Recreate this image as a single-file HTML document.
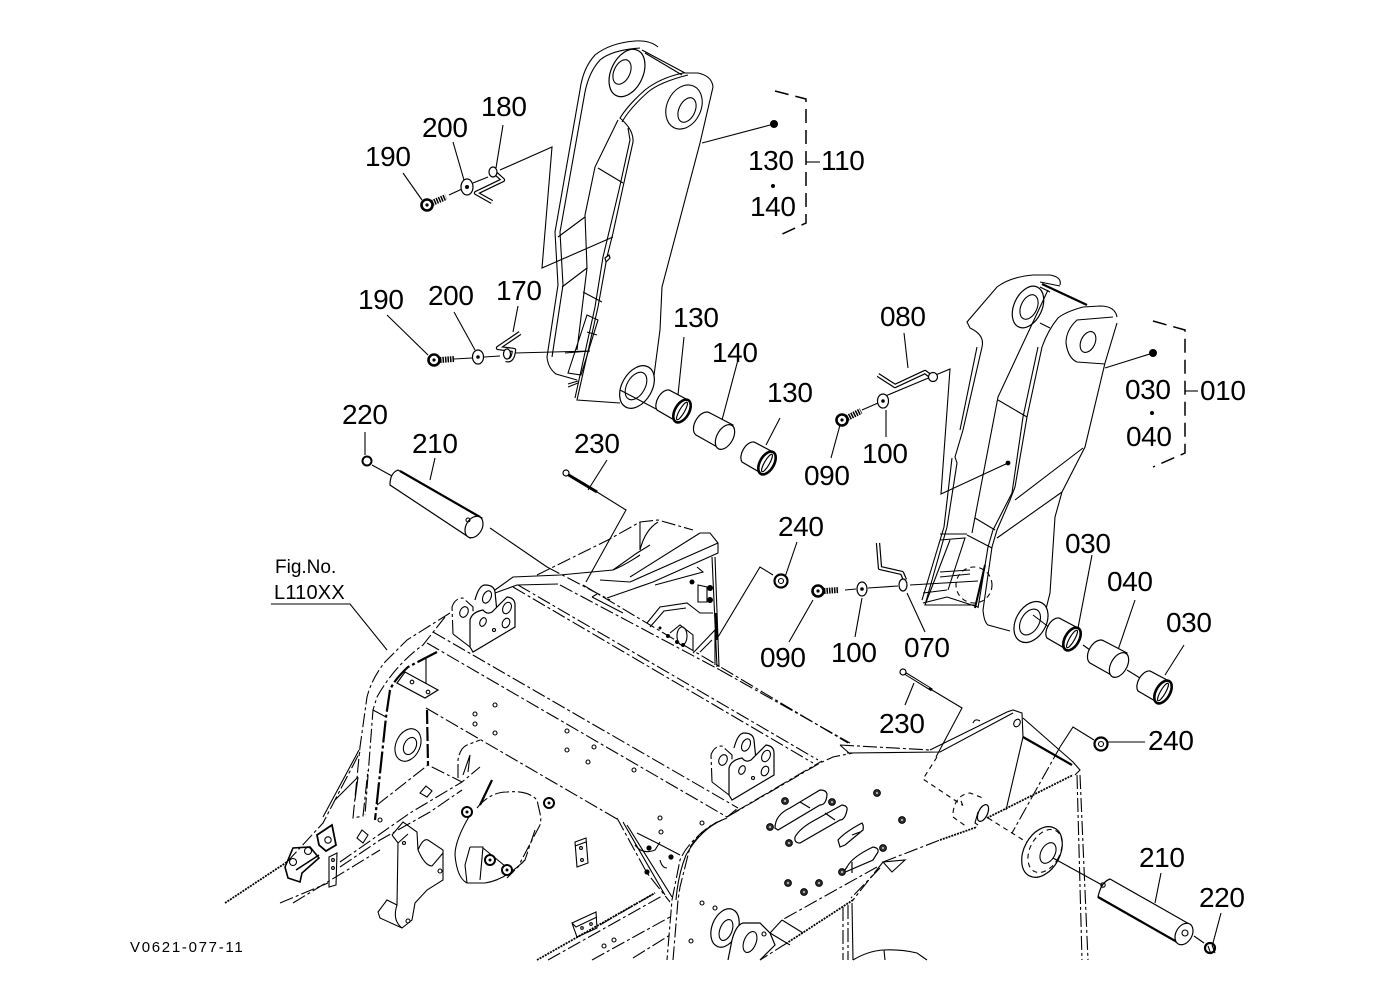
<!DOCTYPE html>
<html><head><meta charset="utf-8"><style>
html,body{margin:0;padding:0;background:#fff}
svg{display:block}
text{font-family:"Liberation Sans",sans-serif;font-size:28px;fill:#000;letter-spacing:-.4px}
.l{fill:none;stroke:#000;stroke-width:1.1}
.d{fill:none;stroke:#000;stroke-width:1.1;stroke-dasharray:14 3 3 3}
.s{fill:none;stroke:#000;stroke-width:1.1;stroke-dasharray:5 4}
.g{fill:none;stroke:#000;stroke-width:1.8;stroke-dasharray:2 1}
.t{fill:none;stroke:#000;stroke-width:2.2}
.w{fill:#fff;stroke:#000;stroke-width:1.2}
.h1{fill:none;stroke:#000;stroke-width:4.4;stroke-linejoin:round}
.h2{fill:none;stroke:#fff;stroke-width:2;stroke-linejoin:round}
</style></head><body>
<svg width="1379" height="1001" viewBox="0 0 1379 1001" xmlns="http://www.w3.org/2000/svg">
<defs>
<g id="bush"><path class="w" d="M6,-11 L-13,-21 A7 12 30 0 0 -25,-1 L-6,10Z"/><ellipse rx="7" ry="12.5" transform="rotate(30)" fill="#fff" stroke="#000" stroke-width="2.6"/><ellipse rx="2.5" ry="10" transform="rotate(30)" fill="none" stroke="#000" stroke-width="1.2"/></g>
<g id="spacer"><path class="w" d="M8,-12 L-15,-24 A8 13 30 0 0 -29,-2 L-6,11Z"/><ellipse rx="8" ry="13.5" transform="rotate(30)" class="w"/></g>
<g id="bolt"><circle r="5" fill="#fff" stroke="#000" stroke-width="2"/><circle r="1.5"/></g>
<g id="nut"><circle r="3.4" fill="#333" stroke="#000" stroke-width="1"/><circle r=".9" fill="#fff"/></g>
<g id="brk" class="l">
<path class="w" d="M475,600 Q479,585 485,585 Q494,585 495,592 L497,612"/>
<path class="d" d="M453,634 L452,607 Q455,598 463,598 L473,607 L473,622"/>
<path class="l" d="M453,634 L470,647"/>
<path class="w" d="M470,647 L470,620 Q472,612 483,610 Q487,615 492,612 L507,597 Q515,598 515,605 L515,627 L473,652 Z"/>
<ellipse cx="464" cy="612" rx="4" ry="5.5" transform="rotate(25 464 612)" class="l"/>
<ellipse cx="487" cy="597" rx="4" ry="6.5" transform="rotate(25 487 597)" class="l"/>
<ellipse cx="483" cy="622" rx="3" ry="4.5" transform="rotate(25 483 622)" class="l"/>
<ellipse cx="507" cy="608" rx="4" ry="6" transform="rotate(25 507 608)" class="l"/>
<ellipse cx="506" cy="623" rx="3.5" ry="5" transform="rotate(25 506 623)" class="l"/>
<circle cx="494" cy="630" r="1.5" class="l"/>
</g>
</defs>

<!-- upper arm -->
<g>
<path class="l" d="M658,47 Q650,40 635,41 Q610,43 595,55 Q583,68 580,90 L555,232 L558,285 L547,357 Q548,368 556,374 L577,380"/>
<path class="l" d="M640,48 Q612,50 600,60 Q589,72 585,92 L560,232 L563,285 L552,357"/>
<path class="l" d="M642,50 L685,73 M645,53 L682,75"/>
<path class="l" d="M713,87 Q712,76 698,73 L683,73 Q660,78 645,90 Q628,105 620,118 Q634,130 633,142 L623,187 L613,233 L607,257 L598,307 L577,400 L620,403"/>
<path class="l" d="M688,75 Q660,82 648,92 Q630,108 622,122"/>
<path class="l" d="M628,128 L630,140 L619,190 L609,232 L603,257 L595,307 L575,398"/>
<path class="l" d="M713,87 L700,143 L662,287 L660,330 L653,383"/>
<path class="w" d="M605,258 L609,255 L610,258 L606,262Z"/>
<ellipse cx="627" cy="73" rx="16" ry="25" transform="rotate(25 627 73)" class="w"/>
<ellipse cx="622" cy="72" rx="8" ry="13" transform="rotate(25 622 72)" class="l"/>
<ellipse cx="684" cy="107" rx="17" ry="23" transform="rotate(25 684 107)" class="l"/>
<ellipse cx="687" cy="110" rx="8" ry="13" transform="rotate(25 687 110)" class="l"/>
<ellipse cx="637" cy="387" rx="15" ry="23" transform="rotate(30 637 387)" class="w"/>
<ellipse cx="636" cy="386" rx="9" ry="15" transform="rotate(30 636 386)" class="l"/>
<path class="l" d="M618,120 L595,167 L585,215 L587,268 L577,350 M598,168 L623,183 M585,217 L558,237 M587,268 L562,287 M583,292 L602,302 M587,315 L598,320 L581,375 L568,373Z"/>
<path class="l" d="M565,353 L590,351 M568,387 L578,383 M587,332 L597,335 M568,384 L578,381"/>
</g>
<!-- leaders upper arm -->
<path class="l" d="M500,170 L552,147 L542,268 L613,237 M449,195 L462,189 M473,183 L488,177 M403,173 L422,200 M453,142 L464,180 M503,125 L496,168 M702,143 L774,124"/>
<circle cx="774" cy="124" r="4"/><circle cx="773" cy="186" r="2"/>
<path fill="none" stroke="#000" stroke-width="1.5" stroke-dasharray="14 7" d="M775,91 L806,99 L806,223 L776,237"/>
<path class="l" d="M806,162 L820,162"/>
<!-- hardware -->
<g>
<circle cx="427" cy="205" r="5.5" fill="#fff" stroke="#000" stroke-width="2.6"/><circle cx="427" cy="205" r="1.6"/><path stroke="#000" stroke-width="6" stroke-dasharray="1.5 1" d="M432,203 L446,197"/>
<ellipse cx="467" cy="187" rx="6" ry="8" class="w" stroke-width="1.6"/><circle cx="467" cy="187" r="2"/>
<path class="h1" d="M492,170 L503,180 L476,193 L492,202"/><path class="h2" d="M492,170 L503,180 L476,193 L492,202"/><ellipse cx="493" cy="172" rx="4" ry="5" class="w" stroke-width="1.6"/>
<circle cx="434" cy="360" r="5.5" fill="#fff" stroke="#000" stroke-width="2.6"/><circle cx="434" cy="360" r="1.6"/><path stroke="#000" stroke-width="6" stroke-dasharray="1.5 1" d="M440,360 L454,359"/>
<path class="l" d="M454,359 L472,358 M484,357 L500,356 M515,353 L590,351"/>
<ellipse cx="478" cy="357" rx="5.5" ry="7" class="w" stroke-width="1.6"/><circle cx="478" cy="357" r="1.8"/>
<path class="h1" d="M520,333 L498,348 L514,350 Q513,362 506,360"/><path class="h2" d="M520,333 L498,348 L514,350 Q513,362 506,360"/><ellipse cx="507" cy="354" rx="3.5" ry="5" class="w"/>
<path class="l" d="M518,306 L513,332 M454,312 L475,350 M387,315 L428,355"/>
</g>
<path class="l" d="M620,390 L658,410 M696,425 L700,428 M745,450 L750,452"/>
<use href="#bush" x="682" y="411"/><use href="#spacer" x="725" y="437"/><use href="#bush" x="767" y="463"/>
<path class="l" d="M684,337 L678,395 M739,356 L722,420 M780,418 L766,445"/>

<!-- right arm -->
<g>
<path class="l" d="M1060,285 Q1062,277 1050,275 L1033,275 Q1010,277 997,287 L967,322 L970,328 Q985,335 982,347 L963,430 L955,457 L957,463 L947,527 L925,605 L975,605"/>
<path class="l" d="M977,347 L960,430 M952,458 L944,527 L922,600"/>
<path class="l" d="M1117,317 Q1115,306 1100,306 L1083,307 Q1065,312 1058,318 Q1048,330 1042,347 L1027,417 L1015,487 L1010,500 L997,530 L992,547 L983,610 Q984,622 988,625 L1010,631"/>
<path class="l" d="M1038,347 L1023,417 L1012,493 L993,530 L988,547 L978,608"/>
<path class="l" d="M1117,323 L1105,363 L1085,447 L1062,492 L1055,517 L1050,593 L1045,613"/>
<path class="l" d="M1113,317 L1077,320 Q1066,330 1066,343 Q1068,358 1077,362 L1105,364"/>
<ellipse cx="1088" cy="342" rx="7" ry="11" transform="rotate(25 1088 342)" class="l"/>
<ellipse cx="1028" cy="307" rx="14" ry="22" transform="rotate(25 1028 307)" class="w"/>
<ellipse cx="1029" cy="307" rx="8" ry="13" transform="rotate(25 1029 307)" class="l"/>
<path class="t" stroke-width="1.8" d="M1042,284 L1087,305"/><path class="l" d="M1040,282 L1060,286 M1040,287 L1050,292"/>
<path class="l" d="M1048,290 L998,397 L972,533 M998,400 L1027,417 M1083,448 L1015,500 M1062,492 L997,538 M975,518 L995,530 M967,535 L992,548"/>
<path class="l" d="M1040,323 L1050,328"/>
<ellipse cx="1031" cy="622" rx="15" ry="22" transform="rotate(30 1031 622)" class="w"/>
<ellipse cx="1030" cy="622" rx="9" ry="14" transform="rotate(30 1030 622)" class="l"/>
<path class="l" d="M940,534 L967,534 M940,540 L965,538 L948,590 M950,540 L925,605 M940,572 L970,570 M940,577 L970,574 M923,593 L947,590 M923,603 L947,597 M947,597 L978,607"/>
<circle cx="974" cy="585" r="18" class="s"/>
<path stroke="#000" stroke-width="2" d="M985,565 L975,608"/>
</g>
<!-- leaders right arm -->
<path class="l" d="M883,397 L950,369 L941,494 L1008,463 M862,410 L878,403 M840,425 L831,458 M886,410 L886,437 M904,333 L908,368 M1105,368 L1153,353 M910,585 L978,581 M845,590 L856,589 M868,588 L898,586 M862,598 L855,637 M907,593 L925,632 M813,600 L789,642"/>
<circle cx="1008" cy="463" r="2.4"/><circle cx="1153" cy="353" r="4"/><circle cx="1152" cy="413" r="2"/>
<path fill="none" stroke="#000" stroke-width="1.5" stroke-dasharray="14 7" d="M1153,321 L1185,330 L1185,453 L1153,467"/>
<path class="l" d="M1185,391 L1198,391"/>
<path class="h1" d="M878,375 L895,386 L925,372 L933,378"/><path class="h2" d="M878,375 L895,386 L925,372 L933,378"/>
<circle cx="933" cy="377" r="4.5" class="w" stroke-width="1.6"/>
<ellipse cx="883" cy="401" rx="5.5" ry="7" class="w" stroke-width="1.6"/><circle cx="883" cy="401" r="1.8"/>
<circle cx="842" cy="420" r="5.5" fill="#fff" stroke="#000" stroke-width="2.6"/><circle cx="842" cy="420" r="1.6"/><path stroke="#000" stroke-width="6" stroke-dasharray="1.5 1" d="M847,418 L861,411"/>
<circle cx="818" cy="591" r="5.5" fill="#fff" stroke="#000" stroke-width="2.6"/><circle cx="818" cy="591" r="1.6"/><path stroke="#000" stroke-width="6" stroke-dasharray="1.5 1" d="M824,591 L839,590"/>
<ellipse cx="862" cy="589" rx="5" ry="7" class="w" stroke-width="1.6"/><circle cx="862" cy="589" r="1.8"/>
<path class="h1" d="M878,543 L880,568 L902,573 L905,580"/><path class="h2" d="M878,543 L880,568 L902,573 L905,580"/><ellipse cx="903" cy="585" rx="4" ry="6" class="w" stroke-width="1.8"/>
<path class="l" d="M1033,615 L1050,628 M1083,645 L1090,650 M1127,670 L1140,678 M1092,555 L1078,628 M1135,600 L1118,650 M1184,645 L1165,675"/>
<use href="#bush" x="1072" y="639"/><use href="#spacer" x="1119" y="665"/><use href="#bush" x="1163" y="692"/>

<!-- frame: left rail -->
<g>
<path class="d" d="M450,613 L407,640 L385,662 Q372,678 367,697 L360,747 L353,818 L363,816 L368,770"/>
<path class="d" d="M445,617 L423,645 Q395,665 377,697 L373,710 L365,815"/>
<path class="l" d="M373,710 L386,717"/>
<path class="t" stroke-width="1.8" stroke-dasharray="22 3 3 3" d="M437,652 L408,667 Q394,680 390,690 L386,717 L375,820"/>
<path class="g" d="M225,903 L287,862"/>
<path class="d" d="M287,862 L323,823 L360,752"/>
<path class="l" d="M323,817 L359,750 M335,800 L358,777"/>
<path class="l" d="M355,800 L358,777"/>
<path class="d" d="M280,903 L328,883"/><path class="d" d="M293,903 L380,850"/>
<path class="d" d="M340,862 L410,813 L462,782"/>
<path class="d" d="M340,867 L380,840 L430,812 L462,790"/>
<path class="d" d="M377,805 L428,765 L462,782 L480,767"/>
<path class="l" d="M426,657 L426,697"/>
<path class="t" stroke-width="1.6" stroke-dasharray="14 3" d="M427,710 L428,765"/>
<path class="d" d="M433,632 L738,808"/>
<path class="d" d="M427,643 L727,817 L738,808"/>
<path class="d" d="M426,708 L617,819"/>
<path class="w" d="M405,672 L438,690 L425,698 L397,683Z"/>
<circle cx="412" cy="682" r="1.8" class="l"/><circle cx="428" cy="692" r="1.8" class="l"/>
<ellipse cx="408" cy="745" rx="12" ry="17" transform="rotate(25 408 745)" class="l"/>
<ellipse cx="410" cy="746" rx="6" ry="9" transform="rotate(25 410 746)" class="l"/>
<path class="d" d="M458,778 L458,760 Q460,748 467,745 L480,740"/>
<path class="l" d="M463,775 L470,755 M470,755 L468,772"/>
<path class="l" d="M426,786 L432,791 L427,797 L420,793Z M362,830 L368,835 L363,843 L357,838Z"/>
<g class="l"><circle cx="495" cy="705" r="2"/><circle cx="475" cy="714" r="2"/><circle cx="475" cy="724" r="2"/><circle cx="495" cy="733" r="2"/><circle cx="567" cy="731" r="2"/><circle cx="567" cy="750" r="2"/><circle cx="594" cy="747" r="2"/><circle cx="588" cy="762" r="2"/><circle cx="634" cy="770" r="2"/><circle cx="660" cy="818" r="2"/><circle cx="661" cy="832" r="2"/><circle cx="702" cy="823" r="2"/><circle cx="380" cy="820" r="2"/><circle cx="702" cy="903" r="2"/><circle cx="715" cy="908" r="2"/><circle cx="691" cy="941" r="2"/><circle cx="604" cy="946" r="2"/><circle cx="614" cy="940" r="2"/></g>
<!-- top back rail -->
<path class="d" d="M513,587 L813,763"/>
<path class="d" d="M518,585 L818,760"/>
<path class="d" d="M583,585 L848,743"/>
<path class="d" d="M560,585 L720,670"/>
<path class="d" d="M720,670 L850,743"/>
<path class="l" stroke-width="1.4" d="M495,590 L513,577 L560,575 L613,570 L637,553 L650,545"/>
<path class="l" d="M495,593 L517,585 L558,584"/>
<path class="d" d="M537,575 L608,540 L640,522 L658,520 L693,530"/>
<path class="l" d="M640,522 L640,550 M658,522 Q645,530 640,550 M640,555 Q625,565 613,570"/>
<path class="l" d="M700,533 L710,533 L718,543 L718,553 L653,582 L607,598 M718,543 L630,582 L600,580 M700,533 L630,577"/>
<path class="l" d="M592,597 L623,613 M592,597 L597,594 M697,567 L703,572 L655,585"/>
<path class="l" d="M712,557 L717,667 M715,557 L719,667"/>
<path class="t" stroke-width="1.6" d="M716,613 L717,640"/>
<path class="l" d="M647,623 L660,607 L687,603 L700,613 L713,613"/>
<path class="l" d="M650,627 L664,611 L686,608"/>
<path class="l" d="M670,633 L680,625 L693,635 L693,650"/><ellipse cx="682" cy="636" rx="5" ry="9" class="l"/>
<path class="l" d="M693,653 L715,630 L715,665 M700,652 L712,640"/>
<path class="l" d="M698,585 L707,587 L707,602 L698,602Z"/>
<circle cx="710" cy="588" r="3"/><circle cx="710" cy="600" r="3"/><circle cx="692" cy="582" r="2.5"/>
<circle cx="668" cy="636" r="2"/><circle cx="677" cy="642" r="2"/><circle cx="683" cy="645" r="2"/><circle cx="660" cy="628" r="1.5"/>
</g>
<use href="#brk"/>
<use href="#brk" x="259" y="148"/>

<!-- disc -->
<g>
<path class="d" d="M477,808 Q490,792 507,792 Q528,790 537,800 L541,818 L540,825 L520,863"/>
<path class="d" d="M535,830 L525,860 L507,878"/>
<path class="l" d="M470,815 Q455,840 455,855 Q457,878 467,883 L485,883 Q505,880 525,860"/>
<path class="t" stroke-width="3.5" d="M492,780 L480,805"/>
<use href="#bolt" x="467" y="812"/><use href="#bolt" x="549" y="803"/><use href="#bolt" x="490" y="860"/><use href="#bolt" x="507" y="870"/>
<path class="l" d="M470,847 L483,847 L480,880 M470,847 L465,865 L467,883 M483,848 L505,866"/>
</g>
<!-- hanger -->
<g class="l">
<path d="M392,835 L403,822 L417,832 L418,850 Q423,838 428,840 L443,850 L443,880 L427,890 L415,903 L412,920 L402,928 L380,918 L378,912 L387,900 L397,905 L398,843"/>
<path d="M392,835 L398,843 L408,834 M418,850 Q425,866 432,866 L443,853 M397,905 Q392,920 402,928"/>
<circle cx="404" cy="843" r="1.5"/><circle cx="440" cy="871" r="2"/><circle cx="408" cy="921" r="2"/>
<path d="M575,842 L586,838 L588,863 L577,867Z M575,846 L586,842"/><circle cx="581" cy="848" r="1.4"/><circle cx="582" cy="860" r="1.4"/>
<path d="M572,923 L596,912 L597,928 L577,937Z M572,923 L576,927 L597,917"/><circle cx="582" cy="928" r="1.3"/><circle cx="591" cy="924" r="1.3"/>
</g>
<!-- left details -->
<g class="l">
<path stroke-width="1.6" d="M285,867 L293,848 L310,847 L319,858 L302,873 L300,882 L288,878Z M296,870 L319,855"/>
<circle cx="293" cy="862" r="3.5"/><circle cx="308" cy="851" r="3.5"/>
<path stroke-width="1.8" d="M317,835 L332,825 L336,845 L326,851 L319,845Z"/><circle cx="328" cy="840" r="3.2"/>
<path d="M329,857 L337,853 L336,885 L329,887Z"/><circle cx="333" cy="860" r="1.4"/><circle cx="333" cy="868" r="1.4"/>
</g>
<!-- bottom rail & center -->
<g>
<path class="g" d="M537,960 L655,893"/><path class="d" d="M548,960 L662,896"/>
<path class="d" d="M600,925 L655,893"/>
<path class="d" d="M592,960 L670,917"/><path class="d" d="M633,958 L670,935"/>
<path class="d" d="M617,818 L647,873 L670,902"/>
<path class="l" d="M627,825 L672,897 M623,822 L665,895 M637,833 L657,843 L680,855 M660,860 Q662,868 667,868"/>
<path class="l" d="M635,845 Q642,855 655,850 L660,842"/>
<circle cx="649" cy="848" r="2.6"/><circle cx="671" cy="857" r="2.6"/><circle cx="647" cy="872" r="2.6"/>
<path class="d" d="M727,818 Q708,825 697,837 Q685,848 680,860 L672,900 L667,960"/>
<path class="d" d="M717,822 Q700,832 690,847 L680,887 L678,900 L673,960"/>
<path class="l" d="M722,820 Q700,830 686,855 Q678,875 676,900"/>
<path class="d" d="M727,817 L820,763 L833,757 L853,753"/>
<path class="d" d="M735,812 L822,761"/>
<path class="d" d="M840,745 L930,750"/>
<path class="l" d="M847,753 L940,752 L1013,713 M840,745 L849,753 M930,750 L1007,712 L1013,710 L1022,713 L1023,737"/>
<path class="l" d="M973,723 Q975,718 980,721"/>
<path class="l" d="M1023,718 L1073,762 L1080,770 L1075,775"/>
<path class="t" stroke-width="1.6" d="M1023,737 L1072,765"/>
<path class="d" d="M1077,775 L1082,960"/><path class="d" d="M1080,775 L1088,960"/>
<path class="g" d="M987,818 L1073,775"/>
<path class="g" d="M940,840 L977,827"/>
<path class="d" d="M883,862 L940,840"/>
<path class="g" d="M883,862 L920,855" stroke-opacity="0"/>
<path class="d" d="M883,862 L853,900"/><path class="d" d="M880,868 L851,898"/>
<path class="l" d="M883,862 L905,860 L892,872Z"/>
<path class="d" d="M843,907 L843,960"/><path class="d" d="M848,905 L848,960"/><path class="l" d="M852,903 L853,960"/>
<path class="d" d="M877,867 L782,920"/><path class="g" d="M853,900 L787,943"/><path class="d" d="M787,943 L760,960"/>
<path class="l" d="M782,920 L803,933 M770,933 L782,920 M770,933 L790,945"/>
<path class="l" d="M853,960 Q868,951 883,950 Q900,949 917,953 L927,960"/><path class="l" d="M884,950 L885,960"/>
<ellipse cx="725" cy="928" rx="13" ry="20" transform="rotate(22 725 928)" class="w"/><ellipse cx="726" cy="930" rx="6" ry="11" transform="rotate(22 726 930)" class="l"/>
<path class="w" d="M728,960 L732,940 Q736,925 743,923 L760,923 L770,933 L775,945 L760,960"/><ellipse cx="750" cy="942" rx="6" ry="11" transform="rotate(22 750 942)" class="l"/>
<circle cx="764" cy="934" r="2" class="l"/>
<!-- slots -->
<path class="w" d="M775,828 Q775,815 790,808 L820,790 Q827,790 827,795 Q826,805 820,805 L778,830Z M800,802 L810,808"/>
<path class="w" d="M795,837 Q800,828 815,820 L842,805 Q848,806 847,810 Q845,820 840,820 L800,843 Q794,843 795,837Z M825,813 L835,820"/>
<path class="w" d="M838,840 Q845,832 862,823 Q864,826 863,830 L845,845 L840,847Z M852,835 L860,832"/>
<path class="w" d="M847,867 Q852,857 873,847 Q879,848 878,852 L873,860 L843,873Z M852,862 L852,873"/>
<use href="#nut" x="785" y="801"/><use href="#nut" x="832" y="802"/><use href="#nut" x="877" y="793"/><use href="#nut" x="902" y="820"/><use href="#nut" x="788" y="883"/><use href="#nut" x="804" y="892"/><use href="#nut" x="819" y="883"/><use href="#nut" x="770" y="827"/><use href="#nut" x="789" y="843"/><use href="#nut" x="842" y="872"/><use href="#nut" x="883" y="848"/>
<ellipse cx="1017" cy="723" rx="3" ry="4" transform="rotate(30 1017 723)" class="l"/>
<path class="l" d="M1023,737 L1006,810"/>
<path class="s" d="M953,813 Q955,795 970,793 L983,798 M953,817 L967,827"/>
<path class="s" d="M961,801 L963,806"/>
<ellipse cx="983" cy="813" rx="4.5" ry="9" transform="rotate(25 983 813)" class="w"/>
<path class="l" d="M978,812 L975,823 L978,825"/>
<path class="d" d="M1060,747 L1012,833"/>
<path class="s" d="M937,757 L923,779 L962,805"/>
<path class="s" d="M988,818 L1012,833 L1028,843"/>
<ellipse cx="1042" cy="852" rx="18" ry="27" transform="rotate(28 1042 852)" class="w"/>
<ellipse cx="1045" cy="851" rx="15" ry="23" transform="rotate(28 1045 851)" class="s"/>
<ellipse cx="1048" cy="853" rx="7" ry="11" transform="rotate(28 1048 853)" class="l"/>
<path class="l" d="M1053,858 L1102,885 M1155,903 L1161,873 M1213,943 L1221,913 M1194,936 L1204,943"/>
<path class="w" d="M1110,879 L1191,925 L1177,942 L1098,897 Q1101,882 1110,879Z"/>
<path class="t" d="M1098,897 L1177,942"/>
<ellipse cx="1184" cy="934" rx="8" ry="11.5" transform="rotate(30 1184 934)" class="w"/><circle cx="1185" cy="933" r="3" class="l"/>
<circle cx="1103" cy="885" r="2.2" class="l"/>
<circle cx="1210" cy="948" r="5" fill="#fff" stroke="#000" stroke-width="2.2"/><path class="l" d="M1212,945 L1215,953 M1208,946 L1211,954"/>
<circle cx="1101" cy="744" r="6.5" fill="#fff" stroke="#000" stroke-width="2.2"/><circle cx="1101" cy="744" r="2.5" class="l"/>
<path class="l" d="M1094,740 L1073,727 L1060,747 M1108,742 L1145,742"/>
<path fill="none" stroke="#000" stroke-width="3" d="M903,672 L932,690"/><path stroke="#fff" stroke-width="1" d="M906,674 L929,688"/>
<circle cx="903" cy="672" r="3" class="w"/>
<path class="l" d="M932,690 L962,708 L936,757 M914,683 L905,705"/>
</g>
<!-- upper pins -->
<g>
<path class="l" d="M372,465 L392,476 M490,528 L547,567 M365,432 L365,455 M435,458 L430,480"/>
<path class="d" d="M547,567 L610,600"/>
<path class="w" d="M398,470 L482,518 L470,538 L390,485 Q390,473 398,470Z"/>
<path class="t" d="M400,471 L480,517"/>
<ellipse cx="474" cy="527" rx="8" ry="11.5" transform="rotate(30 474 527)" class="w"/>
<circle cx="468" cy="520" r="2" class="l"/>
<circle cx="367" cy="461" r="4.5" fill="#fff" stroke="#000" stroke-width="2"/>
<path fill="none" stroke="#000" stroke-width="3" d="M567,474 L597,492"/>
<circle cx="566" cy="473" r="3" class="w"/>
<path class="l" d="M597,492 L626,510 L586,582 M607,460 L588,490"/>
<circle cx="781" cy="581" r="6.5" fill="#fff" stroke="#000" stroke-width="2.2"/><circle cx="781" cy="581" r="2.5" class="l"/>
<path class="l" d="M797,542 L785,577 M773,575 L760,567 L718,637"/>
<path class="l" d="M271,604 L350,604 L387,650"/>
</g>

<!-- labels -->
<text x="481" y="116">180</text>
<text x="422" y="137">200</text>
<text x="365" y="166">190</text>
<text x="748" y="170">130</text>
<text x="750" y="216">140</text>
<text x="821" y="170">110</text>
<text x="358" y="309">190</text>
<text x="428" y="305">200</text>
<text x="496" y="300">170</text>
<text x="673" y="327">130</text>
<text x="712" y="362">140</text>
<text x="767" y="402">130</text>
<text x="342" y="424">220</text>
<text x="412" y="453">210</text>
<text x="574" y="453">230</text>
<text x="880" y="326">080</text>
<text x="862" y="463">100</text>
<text x="804" y="485">090</text>
<text x="1125" y="399">030</text>
<text x="1126" y="446">040</text>
<text x="1200" y="400">010</text>
<text x="1065" y="553">030</text>
<text x="1107" y="591">040</text>
<text x="1166" y="632">030</text>
<text x="831" y="662">100</text>
<text x="904" y="657">070</text>
<text x="760" y="667">090</text>
<text x="778" y="536">240</text>
<text x="879" y="733">230</text>
<text x="1148" y="750">240</text>
<text x="1139" y="867">210</text>
<text x="1199" y="907">220</text>
<text x="275" y="573" style="font-size:19px;letter-spacing:0">Fig.No.</text>
<text x="274" y="599" style="font-size:20px;letter-spacing:.2px">L110XX</text>
<text x="130" y="952" style="font-size:15px;letter-spacing:1.7px">V0621-077-11</text>
</svg>
</body></html>
